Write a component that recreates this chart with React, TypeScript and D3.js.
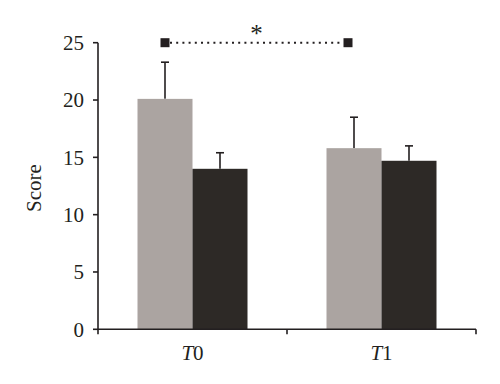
import React from "react";
import * as d3 from "d3";

const categories = ["T0", "T1"];
const seriesNames = ["Group A", "Group B"];
const meanA = [20.1, 15.8];
const meanB = [14.0, 14.7];
const errA = [3.2, 2.7];
const errB = [1.4, 1.3];
const yTicks = [0, 5, 10, 15, 20, 25];
const sigPairs = [{ from: "T0", to: "T1", series: "Group A", level: 25, label: "*" }];

const colors: Record<string, string> = { "Group A": "#aba4a1", "Group B": "#2d2926" };
const ink = "#231f20";

export default function App() {
  const W = 500, H = 384;
  const left = 98, right = 476, top = 42.7, bottom = 329.3;
  const y = d3.scaleLinear().domain([0, 25]).range([bottom, top]);
  const x0 = d3.scaleBand().domain(categories).range([left, right]).paddingInner(0.418).paddingOuter(0.209);
  const x1 = d3.scaleBand().domain(seriesNames).range([0, x0.bandwidth()]);
  const rows = categories.map((c, i) => ({
    cat: c,
    vals: [
      { s: "Group A", v: meanA[i], e: errA[i] },
      { s: "Group B", v: meanB[i], e: errB[i] },
    ],
  }));
  const step = x0.step();
  const xTickPos = [left, ...categories.map((c) => (x0(c) as number) + x0.bandwidth() / 2 + step / 2)];
  const font = "'Liberation Serif', 'DejaVu Serif', serif";
  return (
    <svg width={W} height={H} style={{ position: "absolute", left: 0, top: 0, background: "#fff" }}>
      {rows.map((r) =>
        r.vals.map((d) => {
          const bx = (x0(r.cat) as number) + (x1(d.s) as number);
          const bw = x1.bandwidth();
          const cx = bx + bw / 2;
          return (
            <g key={r.cat + d.s}>
              <line x1={cx} x2={cx} y1={y(d.v)} y2={y(d.v + d.e)} stroke={ink} strokeWidth={1.6} />
              <line x1={cx - 4} x2={cx + 4} y1={y(d.v + d.e)} y2={y(d.v + d.e)} stroke={ink} strokeWidth={1.6} />
              <rect x={bx} y={y(d.v)} width={bw} height={bottom - y(d.v)} fill={colors[d.s]} />
            </g>
          );
        })
      )}
      {/* Y axis */}
      <line x1={left} x2={left} y1={top} y2={bottom} stroke={ink} strokeWidth={1.6} />
      {yTicks.map((t) => (
        <g key={t}>
          <line x1={left - 5} x2={left} y1={y(t)} y2={y(t)} stroke={ink} strokeWidth={1.6} />
          <text x={left - 14} y={y(t)} dy="0.35em" textAnchor="end" fontFamily={font} fontSize={21} fill={ink}>
            {t}
          </text>
        </g>
      ))}
      {/* X axis */}
      <line x1={left} x2={right} y1={bottom} y2={bottom} stroke={ink} strokeWidth={1.6} />
      {xTickPos.map((p, i) => (
        <line key={i} x1={p} x2={p} y1={bottom} y2={bottom + 5} stroke={ink} strokeWidth={1.6} />
      ))}
      {categories.map((c) => (
        <text
          key={c}
          x={(x0(c) as number) + x0.bandwidth() / 2}
          y={360}
          textAnchor="middle"
          fontFamily={font}
          fontSize={21}
          fill={ink}
        >
          <tspan fontStyle="italic">{c.slice(0, 1)}</tspan>
          {c.slice(1)}
        </text>
      ))}
      <text
        transform={`translate(41,188) rotate(-90)`}
        textAnchor="middle"
        fontFamily={font}
        fontSize={21}
        fill={ink}
      >
        Score
      </text>
      {/* significance */}
      {sigPairs.map((p, i) => {
        const xa = (x0(p.from) as number) + (x1(p.series) as number) + x1.bandwidth() / 2;
        const xb = (x0(p.to) as number) + (x1(p.series) as number) + x1.bandwidth() / 2 - 6;
        const yy = y(p.level);
        return (
          <g key={i}>
            <line x1={xa + 5} x2={xb - 5} y1={yy} y2={yy} stroke={ink} strokeWidth={2} strokeDasharray="2,4.2" />
            <rect x={xa - 4.5} y={yy - 4.5} width={9} height={9} fill={ink} />
            <rect x={xb - 4.5} y={yy - 4.5} width={9} height={9} fill={ink} />
            <text x={(xa + xb) / 2} y={yy - 1} textAnchor="middle" fontFamily={font} fontSize={25} fill={ink}>
              {p.label}
            </text>
          </g>
        );
      })}
    </svg>
  );
}
